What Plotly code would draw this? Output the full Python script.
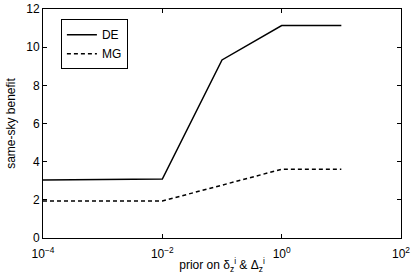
import plotly.graph_objects as go

x_prior = [1e-4, 1e-3, 1e-2, 1e-1, 1e0, 1e1]
de_benefit = [3.04, 3.08, 3.09, 9.33, 11.13, 11.13]
mg_benefit = [1.94, 1.94, 1.94, 2.77, 3.60, 3.60]
x_tickvals = [1e-4, 1e-2, 1e0, 1e2]
x_ticktext = ["10<sup>−4</sup>", "10<sup>−2</sup>", "10<sup>0</sup>", "10<sup>2</sup>"]
y_tickvals = [0, 2, 4, 6, 8, 10, 12]

fig = go.Figure()
fig.add_trace(go.Scatter(x=x_prior, y=de_benefit, mode="lines", name="DE",
                         line=dict(color="black", width=1.5, dash="solid")))
fig.add_trace(go.Scatter(x=x_prior, y=mg_benefit, mode="lines", name="MG",
                         line=dict(color="black", width=1.5, dash="4px,3px")))

ff = "Liberation Sans, Arial, sans-serif"
fig.update_layout(
    width=415, height=277,
    margin=dict(l=43, r=14, t=9, b=39, autoexpand=False),
    paper_bgcolor="white", plot_bgcolor="white",
    font=dict(family=ff, size=12, color="black"),
    showlegend=True,
    legend=dict(x=0.05, y=0.955, xanchor="left", yanchor="top",
                bgcolor="white", bordercolor="black", borderwidth=1,
                font=dict(size=12, family=ff, color="black"),
                tracegroupgap=0, itemwidth=30),
    xaxis=dict(type="log", range=[-4, 2], tickvals=x_tickvals, ticktext=x_ticktext,
               ticks="inside", ticklen=4, tickcolor="black", showgrid=False,
               showline=True, linecolor="black", linewidth=1, mirror="ticks",
               zeroline=False, automargin=False, ticklabelstandoff=5,
               tickfont=dict(size=12, family=ff, color="black"),
               title=dict(text="prior on δ<sub>z</sub><sup>i</sup> & Δ<sub>z</sub><sup>i</sup>",
                          standoff=0, font=dict(size=12, family=ff, color="black"))),
    yaxis=dict(range=[0, 12], tickvals=y_tickvals, ticks="inside", ticklen=4,
               tickcolor="black", showgrid=False, showline=True, linecolor="black",
               linewidth=1, mirror="ticks", zeroline=False, automargin=False,
               tickfont=dict(size=12, family=ff, color="black"),
               title=dict(text="same-sky benefit", standoff=8,
                          font=dict(size=12, family=ff, color="black"))),
)
fig.write_html("out.html", config={"displayModeBar": False},
               post_script="document.body.style.margin='0px';")
